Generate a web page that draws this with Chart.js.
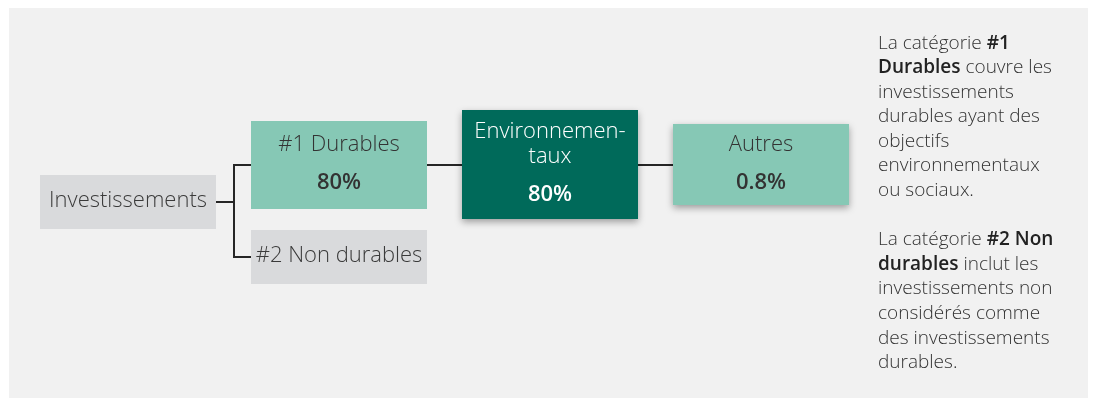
<!DOCTYPE html>
<html>
<head>
<meta charset="utf-8">
<script src="https://cdn.jsdelivr.net/npm/chart.js@4/dist/chart.umd.min.js"></script>
<style>
  html, body { margin: 0; padding: 0; background: #fff; }
  #wrap { position: relative; width: 1096px; height: 398px; overflow: hidden; }
  #panel { position: absolute; left: 9px; top: 8px; width: 1079px; height: 390px; background: #f1f1f1; }
  #chart { position: absolute; left: 0; top: 0; }
  #note { position: absolute; left: 878px; top: 29.5px; font: 300 19px/24.6px 'Open Sans', sans-serif; color: #333; white-space: nowrap; }
  #note b { color: #222; font-weight: 600; }
</style>
</head>
<body>
<div id="wrap">
  <div id="panel"></div>
  <canvas id="chart" width="1096" height="398"></canvas>
  <div id="note">La catégorie <b>#1</b><br><b>Durables</b> couvre les<br>investissements<br>durables ayant des<br>objectifs<br>environnementaux<br>ou sociaux.<br><br>La catégorie <b>#2 Non</b><br><b>durables</b> inclut les<br>investissements non<br>considérés comme<br>des investissements<br>durables.</div>
</div>
<script>
// tree nodes (label lines), their share and where they hang
var nodes = [['Investissements'], ['#1 Durables'], ['#2 Non durables'], ['Environnemen-', 'taux'], ['Autres']];
var shares = [null, 80, null, 80, 0.8];   // % of investments
var levels = ['0', '1', '1', '2', '3'];
var parents = [-1, 0, 0, 1, 3];
var columns = ['0', '1', '2', '3'];

// box layout / look
var boxSpans = [[175, 229], [121, 209], [230, 284], [110, 219], [124, 205]];
var fills = ['#d9dadc', '#86c8b5', '#d9dadc', '#006a5a', '#86c8b5'];
var inks = ['#3a3a3a', '#333333', '#3a3a3a', '#ffffff', '#333333'];
var shadowed = [false, false, false, true, true];

var FONT = "'Open Sans', sans-serif";

function box(el) {
    var p = el.getProps(['x', 'y', 'base', 'width'], true);
    return {
        left: p.x - p.width / 2, right: p.x + p.width / 2,
        top: Math.min(p.y, p.base), bottom: Math.max(p.y, p.base),
        cx: p.x, cy: (p.y + p.base) / 2
    };
}

var treePlugin = {
    id: 'tree',
    beforeDatasetsDraw: function (chart) {
        var c = chart.ctx;
        var els = chart.getDatasetMeta(0).data;

        // connectors
        c.save();
        c.strokeStyle = '#262626';
        c.lineWidth = 2;
        els.forEach(function (el, i) {
            if (parents[i] < 0) return;
            var a = box(els[parents[i]]), b = box(el);
            var midX = Math.round((a.right + b.left) / 2);
            var y0 = Math.round(a.cy), y1 = Math.round(b.cy);
            c.beginPath();
            c.moveTo(a.right, y0);
            c.lineTo(midX, y0);
            c.lineTo(midX, y1);
            c.lineTo(b.left, y1);
            c.stroke();
        });
        c.restore();

        // drop shadows
        c.save();
        els.forEach(function (el, i) {
            if (!shadowed[i]) return;
            var b = box(el);
            c.shadowColor = 'rgba(0,0,0,0.35)';
            c.shadowBlur = 7;
            c.shadowOffsetY = 3;
            c.fillStyle = fills[i];
            c.fillRect(b.left, b.top, b.right - b.left, b.bottom - b.top);
        });
        c.restore();
    },
    afterDatasetsDraw: function (chart) {
        var c = chart.ctx;
        var els = chart.getDatasetMeta(0).data;
        var size = 22, capHalf = size * 0.357;
        c.save();
        c.textAlign = 'center';
        c.textBaseline = 'alphabetic';
        els.forEach(function (el, i) {
            var b = box(el);
            var lines = nodes[i];
            var hasVal = shares[i] !== null;
            var span = (lines.length - 1) * 25 + (hasVal ? 38 : 0);
            var mid = b.cy - span / 2 - 2.5;
            c.fillStyle = inks[i];
            c.font = '300 ' + size + 'px ' + FONT;
            lines.forEach(function (t, k) {
                c.fillText(t, b.cx, mid + k * 25 + capHalf);
            });
            if (hasVal) {
                c.font = '600 ' + size + 'px ' + FONT;
                c.fillText(shares[i] + '%', b.cx, mid + (lines.length - 1) * 25 + 38 + capHalf);
            }
        });
        c.restore();
    }
};

var ctx = document.getElementById('chart');

var treeChart = new Chart(ctx, {
    type: 'bar',
    data: {
        labels: columns,
        datasets: [{
            data: nodes.map(function (n, i) {
                return { x: levels[i], y: boxSpans[i] };
            }),
            backgroundColor: fills,
            borderWidth: 0,
            categoryPercentage: 1,
            barPercentage: 176 / 211
        }]
    },
    options: {
        responsive: false,
        animation: false,
        layout: { padding: { left: 22.5, right: 229.5, top: 0, bottom: 0 } },
        scales: {
            x: { display: false },
            y: { display: false, min: 0, max: 398, reverse: true }
        },
        plugins: {
            legend: { display: false },
            tooltip: { enabled: false }
        }
    },
    plugins: [treePlugin]
});
</script>
</body>
</html>
